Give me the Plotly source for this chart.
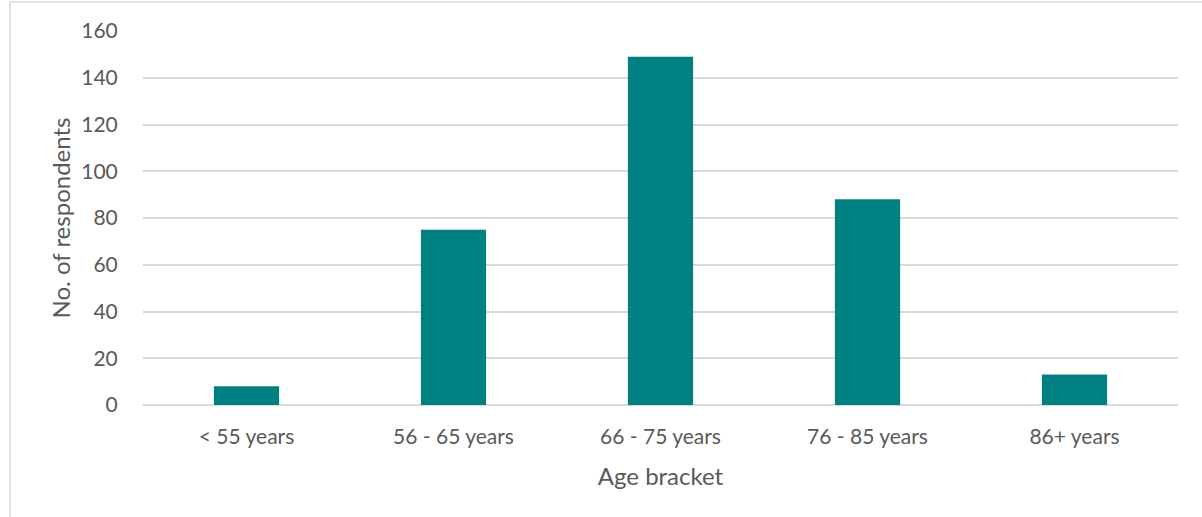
import plotly.graph_objects as go

categories = ["< 55 years", "56 - 65 years", "66 - 75 years", "76 - 85 years", "86+ years"]
respondents = [8, 75, 149, 88, 13]
y_ticks = [0, 20, 40, 60, 80, 100, 120, 140, 160]

W, H = 1202, 517
L, R, T, B = 143, 24, 31, 112
pw, ph = W - L - R, H - T - B

fig = go.Figure(go.Bar(x=categories, y=respondents, marker_color="#008080",
                       marker_line_width=0, width=0.315))

fig.update_layout(
    width=W, height=H,
    margin=dict(l=L, r=R, t=T, b=B),
    paper_bgcolor="white", plot_bgcolor="white",
    font=dict(family="Lato, 'Open Sans', sans-serif", color="#595959", size=21),
    showlegend=False,
    xaxis=dict(title=dict(text="Age bracket", font=dict(size=24), standoff=20),
               showgrid=False, showline=False, ticks="outside", ticklen=13,
               tickcolor="rgba(0,0,0,0)", tickfont=dict(size=21)),
    yaxis=dict(title=dict(text="No. of respondents", font=dict(size=24), standoff=3),
               range=[0, 160], tickvals=y_ticks, showgrid=True, gridcolor="#d9d9d9",
               gridwidth=1.5, zeroline=True, zerolinecolor="#d9d9d9", zerolinewidth=1.5,
               showline=False, ticks="outside", ticklen=20, tickcolor="rgba(0,0,0,0)",
               tickfont=dict(size=21)),
    shapes=[dict(type="rect", xref="paper", yref="paper",
                 x0=(10 - L) / pw, x1=(W + 10 - L) / pw,
                 y0=(H - B - (H + 10)) / ph, y1=(H - B - 2) / ph,
                 line=dict(color="#d9d9d9", width=1.5), fillcolor="rgba(0,0,0,0)", layer="below")],
)

fig.write_html("out.html")
